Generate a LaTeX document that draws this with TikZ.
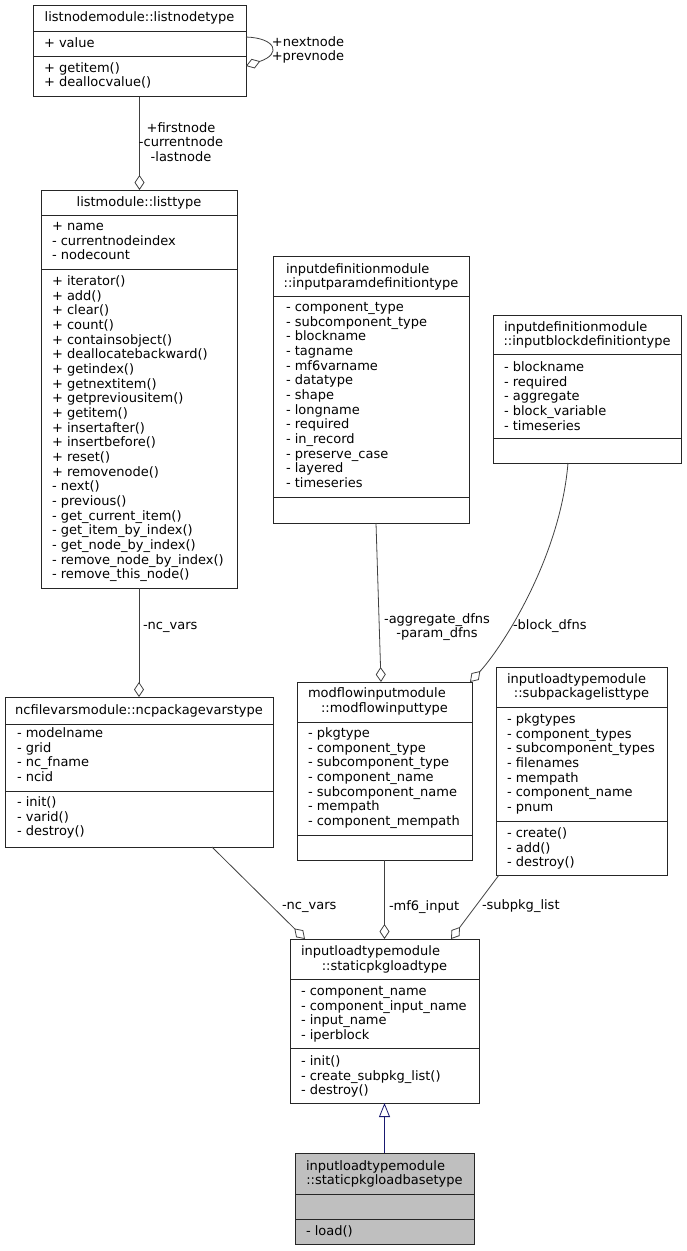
\documentclass[tikz,border=0pt]{standalone}
\usepackage{fontspec}
\setmainfont{DejaVu Sans}
\usetikzlibrary{arrows.meta}
\definecolor{edgegray}{HTML}{404040}
\definecolor{boxgray}{HTML}{BFBFBF}
\definecolor{inhblue}{HTML}{191970}
\newcommand\clines[4]{%
  \foreach \t [count=\i from 0] in {#4} {%
    \node[txt] (#1-\i) at ({#2},{#3+4.5+14.67*\i}) {\t};}}
\begin{document}
\begin{tikzpicture}[x=1pt,y=-1pt,
  box/.style={draw=black!85,line width=0.9pt,fill=white,inner sep=0,outer sep=0,anchor=north west},
  sepl/.style={draw=black!85,line width=0.9pt},
  txt/.style={inner sep=0,outer sep=0,font=\fontsize{13}{14.67}\selectfont,anchor=base west},
  ttl/.style={txt,anchor=base},
  lbl/.style={inner sep=0,outer sep=0,font=\fontsize{13}{14.67}\selectfont},
  edge/.style={draw=edgegray,line width=0.8pt},
  agg/.style={edge,-{Diamond[open,length=15pt,width=10pt,line width=0.8pt]}},
  inh/.style={draw=inhblue,line width=0.8pt,-{Triangle[open,length=14pt,width=11pt,line width=0.8pt]}}]
\useasboundingbox (0,0) rectangle (687,1251);

% listnodetype
\node[box,minimum width=213pt,minimum height=91pt] (ln) at (33,5.7) {};
\draw[sepl] (33,31.7) -- (246,31.7);
\draw[sepl] (33,56.7) -- (246,56.7);
\node[ttl] (ln-t) at (139.5,{17.3+4.5}) {listnodemodule::listnodetype};
\clines{lna}{44}{42.7}{+ value}
\clines{lnm}{44}{67.5}{+ getitem(), + deallocvalue()}

% listtype
\node[box,minimum width=196pt,minimum height=398pt] (lt) at (41,190) {};
\draw[sepl] (41,215) -- (237,215);
\draw[sepl] (41,269) -- (237,269);
\node[ttl] (lt-t) at (139,{202+4.5}) {listmodule::listtype};
\clines{lta}{52}{226}{+ name, - currentnodeindex, - nodecount}
\clines{ltm}{52}{281}{+ iterator(), + add(), + clear(), + count(), + containsobject(), + deallocatebackward(), + getindex(), + getnextitem(), + getpreviousitem(), + getitem(), + insertafter(), + insertbefore(), + reset(), + removenode(), - next(), - previous(), - get\_current\_item(), - get\_item\_by\_index(), - get\_node\_by\_index(), - remove\_node\_by\_index(), - remove\_this\_node()}

% inputparamdefinitiontype
\node[box,minimum width=196pt,minimum height=267pt] (pd) at (273,256) {};
\draw[sepl] (273,296) -- (469,296);
\draw[sepl] (273,497) -- (469,497);
\node[txt] (pd-t1) at (286,{269+4.5}) {inputdefinitionmodule};
\node[ttl] (pd-t2) at (371,{283+4.5}) {::inputparamdefinitiontype};
\clines{pda}{286}{307}{- component\_type, - subcomponent\_type, - blockname, - tagname, - mf6varname, - datatype, - shape, - longname, - required, - in\_record, - preserve\_case, - layered, - timeseries}

% inputblockdefinitiontype
\node[box,minimum width=188pt,minimum height=148pt] (bd) at (493,315) {};
\draw[sepl] (493,354) -- (681,354);
\draw[sepl] (493,438) -- (681,438);
\node[txt] (bd-t1) at (504,{327+4.5}) {inputdefinitionmodule};
\node[ttl] (bd-t2) at (587,{341+4.5}) {::inputblockdefinitiontype};
\clines{bda}{504}{367}{- blockname, - required, - aggregate, - block\_variable, - timeseries}

% ncpackagevarstype
\node[box,minimum width=268pt,minimum height=150pt] (nc) at (5,697) {};
\draw[sepl] (5,724) -- (273,724);
\draw[sepl] (5,791) -- (273,791);
\node[ttl] (nc-t) at (139,{710+4.5}) {ncfilevarsmodule::ncpackagevarstype};
\clines{nca}{17}{733}{- modelname, - grid, - nc\_fname, - ncid}
\clines{ncm}{17}{802}{- init(), - varid(), - destroy()}

% modflowinputtype
\node[box,minimum width=175pt,minimum height=178pt] (mi) at (297,682) {};
\draw[sepl] (297,722) -- (472,722);
\draw[sepl] (297,835) -- (472,835);
\node[txt] (mi-t1) at (308,{693+4.5}) {modflowinputmodule};
\node[ttl] (mi-t2) at (384.5,{708+4.5}) {::modflowinputtype};
\clines{mia}{308}{733}{- pkgtype, - component\_type, - subcomponent\_type, - component\_name, - subcomponent\_name, - mempath, - component\_mempath}

% subpackagelisttype
\node[box,minimum width=171pt,minimum height=208pt] (sl) at (496,667) {};
\draw[sepl] (496,707) -- (667,707);
\draw[sepl] (496,821) -- (667,821);
\node[txt] (sl-t1) at (507,{679+4.5}) {inputloadtypemodule};
\node[ttl] (sl-t2) at (581.5,{693+4.5}) {::subpackagelisttype};
\clines{sla}{507}{719}{- pkgtypes, - component\_types, - subcomponent\_types, - filenames, - mempath, - component\_name, - pnum}
\clines{slm}{507}{833}{- create(), - add(), - destroy()}

% staticpkgloadtype
\node[box,minimum width=189pt,minimum height=164pt] (sp) at (290,939) {};
\draw[sepl] (290,979) -- (479,979);
\draw[sepl] (290,1048) -- (479,1048);
\node[txt] (sp-t1) at (301,{951+4.5}) {inputloadtypemodule};
\node[ttl] (sp-t2) at (384.5,{966+4.5}) {::staticpkgloadtype};
\clines{spa}{301}{991}{- component\_name, - component\_input\_name, - input\_name, - iperblock}
\clines{spm}{301}{1061}{- init(), - create\_subpkg\_list(), - destroy()}

% staticpkgloadbasetype
\node[box,fill=boxgray,minimum width=179pt,minimum height=91pt] (bt) at (295,1153) {};
\draw[sepl] (295,1194) -- (474,1194);
\draw[sepl] (295,1219) -- (474,1219);
\node[txt] (bt-t1) at (306,{1166+4.5}) {inputloadtypemodule};
\node[ttl] (bt-t2) at (384.5,{1180+4.5}) {::staticpkgloadbasetype};
\clines{btm}{306}{1231}{- load()}

% connectors
\draw[agg] ([yshift=14.2pt]ln.east) .. controls +(30,1) and +(36,-12) .. ([yshift=-14.8pt]ln.east);
\draw[agg] (ln.south) -- (ln.south |- lt.north);
\draw[agg] (lt.south) -- (lt.south |- nc.north);
\draw[agg] ([xshift=5pt]pd.south) -- ([xshift=-3.5pt]mi.north);
\draw[agg] ([xshift=-19pt]bd.south) .. controls +(-8,97) and +(30,-32) .. ([xshift=-2pt]mi.north east);
\draw[agg] ([xshift=-61pt]nc.south east) -- ([xshift=15pt]sp.north west);
\draw[agg] (mi.south) -- (sp.north);
\draw[agg] ([xshift=3pt]sl.south west) -- ([xshift=-28pt]sp.north east);
\draw[inh] (bt.north) -- (sp.south);

% labels
\node[lbl,align=center] (l1) at (308,50) {+nextnode\\+prevnode};
\node[lbl,align=center] (l2) at (181,142) {+firstnode\\-currentnode\\-lastnode};
\node[lbl,anchor=west] (l3) at (143,627) {-nc\_vars};
\node[lbl,align=center] (l4) at (437,627) {-aggregate\_dfns\\-param\_dfns};
\node[lbl,anchor=west] (l5) at (513,626) {-block\_dfns};
\node[lbl,anchor=west] (l6) at (282,907) {-nc\_vars};
\node[lbl,anchor=west] (l7) at (389,907) {-mf6\_input};
\node[lbl,anchor=west] (l8) at (482,906) {-subpkg\_list};
\end{tikzpicture}
\end{document}
